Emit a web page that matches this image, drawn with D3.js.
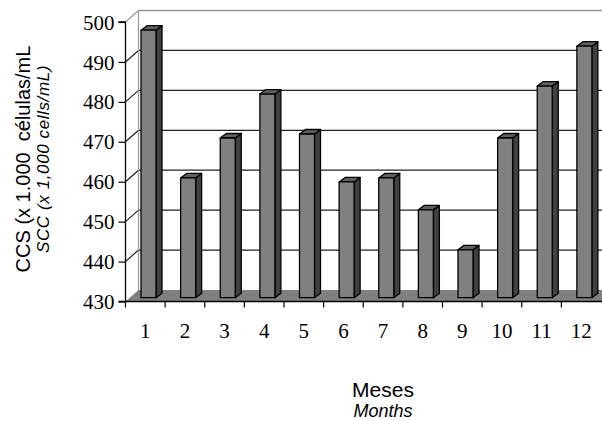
<!DOCTYPE html>
<html>
<head>
<meta charset="utf-8">
<script src="https://cdn.jsdelivr.net/npm/d3@7"></script>
<style>
  body { margin: 0; background: #fff; }
  svg { display: block; }
</style>
</head>
<body>
<div id="chart"></div>
<script>
// chart data
const months = ["1", "2", "3", "4", "5", "6", "7", "8", "9", "10", "11", "12"];
const sccValues = [497, 460, 470, 481, 471, 459, 460, 452, 442, 470, 483, 493];
const yTicks = [430, 440, 450, 460, 470, 480, 490, 500];

const width = 602;
const height = 421;

const svg = d3.select("#chart")
    .append("svg")
    .attr("width", width)
    .attr("height", height);

// front plane of the plot
const plotLeft = 125.5, plotRight = 601, plotTop = 22, plotBottom = 301.5;
// depth of the 3d box
const dx = 13, dy = -11.5;

const x = d3.scaleBand()
    .domain(months)
    .range([plotLeft, plotRight])
    .padding(0);

const y = d3.scaleLinear()
    .domain([430, 500])
    .range([plotBottom, plotTop]);

// back wall + left wall gridlines
yTicks.forEach(function (t) {
    if (t == 430) return;
    svg.append("line")
        .attr("x1", plotLeft).attr("y1", y(t))
        .attr("x2", plotLeft + dx).attr("y2", y(t) + dy)
        .attr("stroke", t == 500 ? "#999" : "#222")
        .attr("stroke-width", 1.2);
    svg.append("line")
        .attr("x1", plotLeft + dx).attr("y1", y(t) + dy)
        .attr("x2", plotRight + dx).attr("y2", y(t) + dy)
        .attr("stroke", t == 500 ? "#999" : "#222")
        .attr("stroke-width", t == 500 ? 1.5 : 1.2);
});

// back-left edge
svg.append("line")
    .attr("x1", plotLeft + dx).attr("y1", y(500) + dy)
    .attr("x2", plotLeft + dx).attr("y2", y(430) + dy)
    .attr("stroke", "#999")
    .attr("stroke-width", 1.2);

// floor
svg.append("path")
    .attr("d", "M" + plotLeft + "," + y(430) +
        "L" + (plotRight + dx) + "," + y(430) +
        "L" + (plotRight + dx) + "," + (y(430) + dy) +
        "L" + (plotLeft + dx) + "," + (y(430) + dy) + "Z")
    .attr("fill", "#808080");

// bars
const barW = 15;
const bdx = 6, bdy = -4.5;
const shift = -3.8; // bars stand a bit back from the front edge

const bars = svg.append("g");
sccValues.forEach(function (v, i) {
    const x0 = x(months[i]) + 15.5;
    const x1 = x0 + barW;
    const yb = y(430) + shift;
    const yt = y(v) + shift;
    const g = bars.append("g")
        .attr("stroke", "#000")
        .attr("stroke-width", 1.3)
        .attr("stroke-linejoin", "round");
    // side face
    g.append("path")
        .attr("d", "M" + x1 + "," + yt + "L" + (x1 + bdx) + "," + (yt + bdy) +
            "L" + (x1 + bdx) + "," + (yb + bdy) + "L" + x1 + "," + yb + "Z")
        .attr("fill", "#404040");
    // top face
    g.append("path")
        .attr("d", "M" + x0 + "," + yt + "L" + (x0 + bdx) + "," + (yt + bdy) +
            "L" + (x1 + bdx) + "," + (yt + bdy) + "L" + x1 + "," + yt + "Z")
        .attr("fill", "#606060");
    // front face
    g.append("rect")
        .attr("x", x0).attr("y", yt)
        .attr("width", barW).attr("height", yb - yt)
        .attr("fill", "#808080");
});

// y axis
const yAxis = d3.axisLeft(y)
    .tickValues(yTicks)
    .tickSize(7)
    .tickPadding(4);
const gy = svg.append("g")
    .attr("transform", "translate(" + plotLeft + ",0)")
    .call(yAxis);
gy.select(".domain").attr("stroke", "#000").attr("stroke-width", 1.3).attr("d", "M-7," + y(500) + "H0V" + y(430) + "H-7");
gy.selectAll(".tick line").attr("stroke", "#000").attr("stroke-width", 1.2);
gy.selectAll(".tick text")
    .attr("font-family", "'Liberation Serif', 'Times New Roman', serif")
    .attr("font-size", 21)
    .attr("fill", "#000")
    .attr("dy", "0.34em");

// x axis
const xAxis = d3.axisBottom(x)
    .tickSize(0)
    .tickPadding(22);
const gx = svg.append("g")
    .attr("transform", "translate(0," + y(430) + ")")
    .call(xAxis);
gx.select(".domain").attr("stroke", "#000").attr("stroke-width", 1.3).attr("d", "M" + plotLeft + ",0H" + (plotRight + 2));
gx.selectAll(".tick text")
    .attr("font-family", "'Liberation Serif', 'Times New Roman', serif")
    .attr("font-size", 21)
    .attr("fill", "#000");
// category separators
const seps = months.map(function (m) { return x(m); });
gx.selectAll(".sep")
    .data(seps)
    .enter().append("line")
    .attr("x1", function (d) { return d; })
    .attr("x2", function (d) { return d; })
    .attr("y1", 0).attr("y2", 6)
    .attr("stroke", "#000")
    .attr("stroke-width", 1.2);

// axis titles
const yTitle = svg.append("g")
    .attr("transform", "translate(30,159) rotate(-90)");
yTitle.append("text")
    .attr("text-anchor", "middle")
    .attr("font-family", "'Liberation Sans', Arial, sans-serif")
    .attr("font-size", 20)
    .attr("xml:space", "preserve")
    .text("CCS (x 1.000  células/mL");
yTitle.append("text")
    .attr("y", 19)
    .attr("text-anchor", "middle")
    .attr("font-family", "'Liberation Sans', Arial, sans-serif")
    .attr("font-size", 17)
    .attr("letter-spacing", 0.6)
    .attr("font-style", "italic")
    .text("SCC (x 1,000 cells/mL)");

svg.append("text")
    .attr("x", 383).attr("y", 397)
    .attr("text-anchor", "middle")
    .attr("font-family", "'Liberation Sans', Arial, sans-serif")
    .attr("font-size", 21)
    .text("Meses");
svg.append("text")
    .attr("x", 383).attr("y", 417)
    .attr("text-anchor", "middle")
    .attr("font-family", "'Liberation Sans', Arial, sans-serif")
    .attr("font-size", 18)
    .attr("font-style", "italic")
    .text("Months");
</script>
</body>
</html>
